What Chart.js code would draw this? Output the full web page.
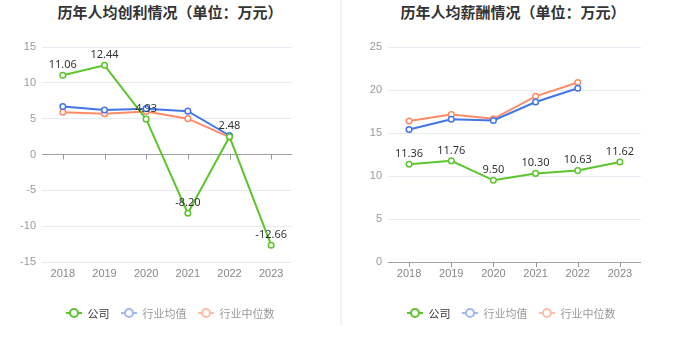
<!DOCTYPE html>
<html lang="zh">
<head>
    <meta charset="UTF-8">
    <title>历年人均创利/薪酬情况</title>
    <script src="https://cdn.jsdelivr.net/npm/chart.js"></script>
    <style>
        body { margin: 0; background: #fff; font-family: "Noto Sans", "Noto Sans CJK SC", sans-serif; }
        .wrap { position: relative; width: 680px; height: 349px; overflow: hidden; }
        .panel { position: absolute; top: 0; width: 340px; height: 349px; }
        .panel.left { left: 0; }
        .panel.right { left: 341px; }
        .divider { position: absolute; left: 340px; top: 0; width: 2px; height: 326px; background: #f3f3f3; }
        .title {
            position: absolute; top: 1px; left: 0; width: 340px; text-align: center;
            font-family: "Noto Sans CJK SC", sans-serif; font-weight: bold; font-size: 15px; color: #333;
        }
        .legend {
            position: absolute; top: 305px; left: 0; width: 340px;
            display: flex; justify-content: center; gap: 11px;
            font-family: "Noto Sans CJK SC", sans-serif; font-size: 11px;
        }
        .legend .item { display: flex; align-items: center; gap: 6px; }
        .legend .icon { position: relative; width: 16px; height: 10px; }
        .legend .icon .ln { position: absolute; left: 0; top: 4px; width: 16px; height: 2px; }
        .legend .icon .dot {
            position: absolute; left: 3px; top: 0px; width: 6px; height: 6px;
            border: 2px solid; border-radius: 50%; background: #fff;
        }
        canvas { position: absolute; top: 0; left: 0; }
    </style>
</head>
<body>
<div class="wrap">
    <div class="panel left">
        <div class="title">历年人均创利情况（单位：万元）</div>
        <canvas id="profitChart" width="340" height="349"></canvas>
        <div class="legend" id="legendLeft"></div>
    </div>
    <div class="divider"></div>
    <div class="panel right">
        <div class="title" style="left:2px">历年人均薪酬情况（单位：万元）</div>
        <canvas id="salaryChart" width="339" height="349"></canvas>
        <div class="legend" id="legendRight"></div>
    </div>
</div>
<script>
    // data
    const years = ['2018', '2019', '2020', '2021', '2022', '2023'];
    const profitCompany = [11.06, 12.44, 4.93, -8.20, 2.48, -12.66];
    const profitAvg = [6.7, 6.2, 6.4, 6.05, 2.65, null];
    const profitMedian = [5.9, 5.7, 6.0, 5.0, 2.43, null];
    const salaryCompany = [11.36, 11.76, 9.50, 10.30, 10.63, 11.62];
    const salaryAvg = [15.4, 16.6, 16.45, 18.6, 20.2, null];
    const salaryMedian = [16.4, 17.15, 16.65, 19.26, 20.87, null];
    const seriesNames = ['公司', '行业均值', '行业中位数'];

    const green = '#5bc52b';
    const blue = '#4275e6';
    const orange = '#ff8b66';
    const legendColors = [green, '#9fb8f2', '#ffbca7'];
    const legendText = ['#333', '#999', '#999'];

    // value labels above company points
    const valueLabels = {
        id: 'valueLabels',
        afterDatasetsDraw(chart) {
            const ctx = chart.ctx;
            const meta = chart.getDatasetMeta(0);
            const data = chart.data.datasets[0].data;
            ctx.save();
            ctx.font = '11px "Noto Sans", sans-serif';
            ctx.fillStyle = '#333';
            ctx.textAlign = 'center';
            ctx.textBaseline = 'bottom';
            meta.data.forEach((pt, i) => {
                ctx.fillText(data[i].toFixed(2), pt.x, pt.y - 5);
            });
            ctx.restore();
        }
    };

    // small tick marks below the zero line
    const zeroTicks = {
        id: 'zeroTicks',
        afterDraw(chart) {
            const ctx = chart.ctx;
            const x = chart.scales.x;
            const y0 = chart.scales.y.getPixelForValue(0);
            ctx.save();
            ctx.strokeStyle = '#999';
            ctx.lineWidth = 1;
            years.forEach((_, i) => {
                const px = Math.round(x.getPixelForValue(i)) + 0.5;
                ctx.beginPath();
                ctx.moveTo(px, y0);
                ctx.lineTo(px, y0 + 5);
                ctx.stroke();
            });
            ctx.restore();
        }
    };

    function ds(label, data, color) {
        return {
            label: label,
            data: data,
            borderColor: color,
            backgroundColor: '#fff',
            borderWidth: 2,
            pointRadius: 2.8,
            pointBorderWidth: 1.5,
            pointBackgroundColor: '#fff',
            tension: 0,
            spanGaps: false
        };
    }

    function makeChart(id, sets, yMin, yMax, pad, yWidth) {
        return new Chart(document.getElementById(id), {
            type: 'line',
            data: {
                labels: years,
                datasets: [
                    ds(seriesNames[0], sets[0], green),
                    ds(seriesNames[1], sets[1], blue),
                    ds(seriesNames[2], sets[2], orange)
                ]
            },
            options: {
                responsive: false,
                animation: false,
                layout: { padding: pad },
                plugins: {
                    legend: { display: false },
                    tooltip: { enabled: false }
                },
                scales: {
                    x: {
                        offset: true,
                        grid: { display: false },
                        border: { display: false },
                        ticks: { color: '#888', font: { size: 11 }, padding: -3 },
                        afterFit(s) { s.height = 22; }
                    },
                    y: {
                        min: yMin,
                        max: yMax,
                        ticks: { stepSize: 5, color: '#999', font: { size: 11 }, padding: 6 },
                        grid: {
                            drawTicks: false,
                            color: c => c.tick && c.tick.value === 0 ? '#a0a0a0' : '#e7ebf3'
                        },
                        border: { display: false },
                        afterFit(s) { s.width = yWidth; }
                    }
                }
            },
            plugins: [valueLabels, zeroTicks]
        });
    }

    makeChart('profitChart', [profitCompany, profitAvg, profitMedian], -15, 15,
        { top: 47, right: 48, bottom: 65, left: 0 }, 42);
    makeChart('salaryChart', [salaryCompany, salaryAvg, salaryMedian], 0, 25,
        { top: 47, right: 39, bottom: 65, left: 0 }, 47);

    function buildLegend(id) {
        const box = document.getElementById(id);
        seriesNames.forEach((name, i) => {
            const item = document.createElement('div');
            item.className = 'item';
            item.innerHTML = '<span class="icon"><span class="ln" style="background:' + legendColors[i] +
                '"></span><span class="dot" style="border-color:' + legendColors[i] + '"></span></span>' +
                '<span style="color:' + legendText[i] + '">' + name + '</span>';
            box.appendChild(item);
        });
    }
    buildLegend('legendLeft');
    buildLegend('legendRight');
</script>
</body>
</html>
